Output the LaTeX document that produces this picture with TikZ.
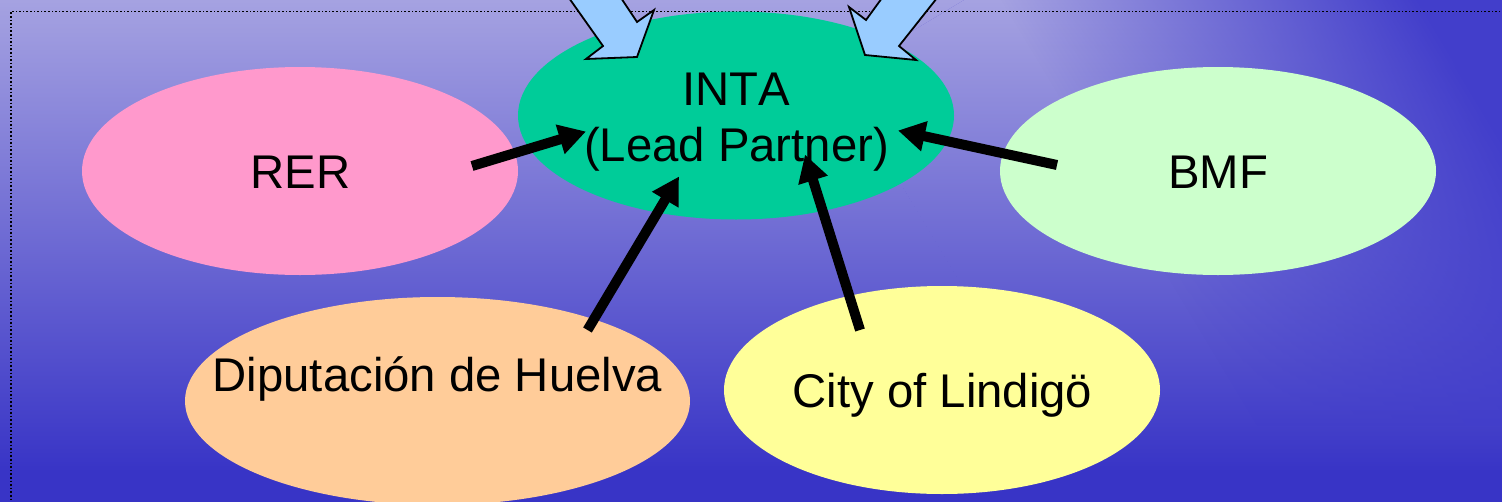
\documentclass[tikz,border=0pt]{standalone}
\usepackage{fontspec}
\setmainfont[Kerning=Off]{Liberation Sans}
\usetikzlibrary{shapes.geometric,arrows.meta,fadings}
\definecolor{bgtop}{RGB}{165,162,225}
\definecolor{bgbot}{RGB}{56,52,198}
\definecolor{bgright}{RGB}{66,62,203}
\definecolor{blockblue}{RGB}{153,204,255}
\tikzfading[name=fadeeast,left color=transparent!100,right color=transparent!0]
\tikzset{
  blob/.style={ellipse,inner sep=0pt,outer sep=0pt,draw=none,minimum width=436pt,minimum height=208pt},
  lbl/.style={anchor=base,inner sep=0pt,text=black,font=\fontsize{47.3}{55}\selectfont,align=center},
  link/.style={line width=10pt,black,-{Triangle[length=27pt,width=29pt]}},
  block/.style={fill=blockblue,draw=black,line width=1.8pt,line join=miter},
  frameline/.style={black,line width=1.4pt,dash pattern=on 1.6pt off 2pt}
}
\begin{document}
\begin{tikzpicture}[x=1pt,y=-1pt]
\useasboundingbox (0,0) rectangle (1502,501);
\clip (0,0) rectangle (1502,501);
\fill[bgbot] (-2,470) rectangle (1504,503);
\shade[top color=bgtop,bottom color=bgbot] (-2,0) rectangle (1504,472);
\fill[bgright,path fading=fadeeast,fit fading=false,fading transform={shift={(1330,200)},rotate=31,scale=7.17}] (900,-3) rectangle (1505,425);
\draw[frameline] (1504,11.5) -- (11,11.5) -- (11,503);
\node[blob,fill={rgb,255:red,0;green,204;blue,153}] (inta) at (736,115.5) {};
\node[blob,fill={rgb,255:red,255;green,153;blue,204}] (rer) at (300,171) {};
\node[blob,fill={rgb,255:red,204;green,255;blue,204}] (bmf) at (1218,171) {};
\node[blob,minimum width=505pt,fill={rgb,255:red,255;green,204;blue,153}] (hue) at (437.5,401) {};
\node[blob,fill={rgb,255:red,255;green,255;blue,153}] (lin) at (942,390) {};
\filldraw[block] (569,-2) -- (603,46) -- (586,59) -- (637,57) -- (654,10) -- (637,22) -- (621,-2) -- cycle;
\filldraw[block] (937,-2) -- (899,46) -- (916,60) -- (865,55) -- (849,7) -- (866,20) -- (882,-2) -- cycle;
\node[lbl] (tinta) at (736.5,105) {INTA};
\node[lbl] (tlead) at (736.5,161) {(Lead Partner)};
\node[lbl] (trer) at (300.5,188) {RER};
\node[lbl] (tbmf) at (1218,188) {BMF};
\node[lbl] (thue) at (437.5,391) {Diputación de Huelva};
\node[lbl] (tlin) at (942.5,407) {City of Lindigö};
\draw[link] ([shift={(172,-5)}]rer.center) -- ([shift={(-150,16)}]inta.center);
\draw[link] ([shift={(-161,-6)}]bmf.center) -- ([shift={(162,15)}]inta.center);
\draw[link] ([shift={(150,-71)}]hue.center) -- ([shift={(-57,61)}]inta.center);
\draw[link] ([shift={(-82,-60)}]lin.center) -- ([shift={(69,39)}]inta.center);
\end{tikzpicture}
\end{document}
